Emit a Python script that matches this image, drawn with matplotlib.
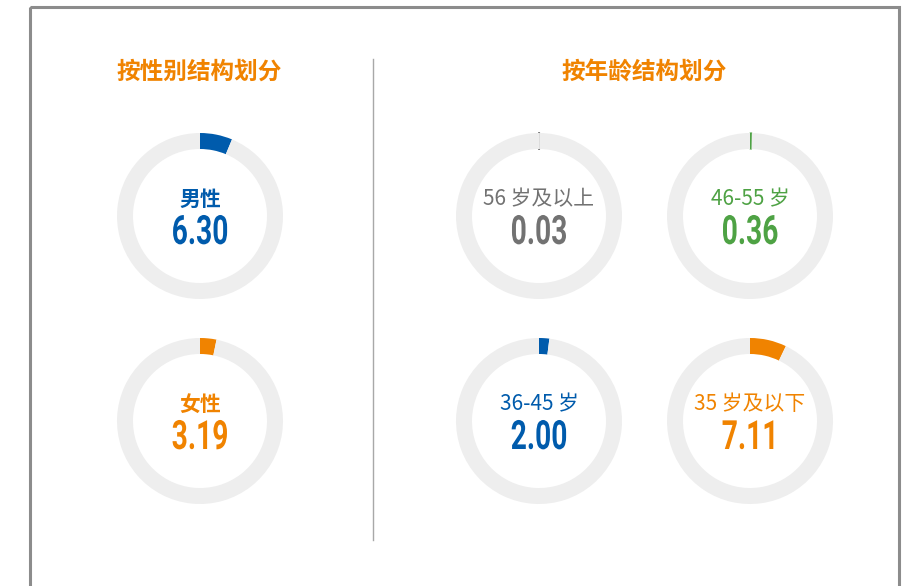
import matplotlib
matplotlib.use("Agg")
import matplotlib.pyplot as plt
from matplotlib.lines import Line2D
from matplotlib.patches import Rectangle
from matplotlib.patheffects import AbstractPathEffect
from matplotlib.transforms import Affine2D

plt.rcParams['font.family'] = ['Noto Sans CJK SC', 'DejaVu Sans']

# Section titles
section_titles = ["按性别结构划分", "按年龄结构划分"]

# Gender breakdown (percent)
gender_labels = ["男性", "女性"]
gender_values = [6.30, 3.19]

# Age breakdown (percent)
age_labels = ["56 岁及以上", "46-55 岁", "36-45 岁", "35 岁及以下"]
age_values = [0.03, 0.36, 2.00, 7.11]

ORANGE = "#F08300"
BLUE = "#005BAC"
GRAY = "#727272"
GREEN = "#4EA244"
RING = "#EEEEEE"

gender_colors = [BLUE, ORANGE]
age_colors = [GRAY, GREEN, BLUE, ORANGE]

W, H = 913, 586
fig = plt.figure(figsize=(W / 100, H / 100), dpi=100)
fig.patch.set_facecolor("white")


class Squeeze(AbstractPathEffect):
    """Narrow the glyphs horizontally around the text's anchor point."""

    def __init__(self, ax, sx):
        super().__init__()
        self.ax = ax
        self.sx = sx

    def draw_path(self, renderer, gc, tpath, affine, rgbFace=None):
        cx = self.ax.transData.transform((0, 0))[0]
        squeeze = Affine2D().translate(-cx, 0).scale(self.sx, 1).translate(cx, 0)
        renderer.draw_path(gc, tpath, affine + squeeze, rgbFace)


# Full-figure overlay in pixel coordinates for frame, divider and titles
bg = fig.add_axes([0, 0, 1, 1])
bg.set_xlim(0, W)
bg.set_ylim(H, 0)
bg.axis("off")

bg.add_patch(Rectangle((29.5, 6.5), 869.5, 600, fill=False,
                       edgecolor="#8C8C8C", linewidth=2.2))
bg.add_line(Line2D([373, 373], [59, 540], color="#A8A8A8", linewidth=1.0))

bg.text(199, 72, section_titles[0], color=ORANGE, fontsize=17,
        fontweight="bold", ha="center", va="center")
bg.text(644, 72, section_titles[1], color=ORANGE, fontsize=17,
        fontweight="bold", ha="center", va="center")

R_PX = 83
RING_W = 16 / 83


def donut(cx, cy, label, value, color, bold):
    ax = fig.add_axes([(cx - R_PX) / W, 1 - (cy + R_PX) / H,
                       2 * R_PX / W, 2 * R_PX / H])
    wedges, _ = ax.pie([value, 100 - value], colors=[color, RING],
                       startangle=90, counterclock=False, radius=1.0,
                       wedgeprops=dict(width=RING_W, linewidth=0))
    # keep very small shares visible as a thin tick
    wedges[0].set_edgecolor(color)
    wedges[0].set_linewidth(1.3 if value < 0.1 else (0.8 if value < 1 else 0))
    ax.set_xlim(-1, 1)
    ax.set_ylim(-1, 1)
    ax.set_aspect("auto")
    ax.axis("off")
    ax.text(0, 17 / R_PX, label, color=color, fontsize=15,
            fontweight="bold" if bold else "medium",
            ha="center", va="center")
    ax.text(0, -17 / R_PX, f"{value:.2f}", color=color, fontsize=29,
            fontweight="bold", ha="center", va="center",
            family=["Roboto", "DejaVu Sans"],
            path_effects=[Squeeze(ax, 0.70)])


gender_pos = [(200, 216), (200, 421)]
for (cx, cy), lab, val, col in zip(gender_pos, gender_labels,
                                   gender_values, gender_colors):
    donut(cx, cy, lab, val, col, True)

age_pos = [(539, 216), (750, 216), (539, 421), (750, 421)]
for (cx, cy), lab, val, col in zip(age_pos, age_labels, age_values,
                                   age_colors):
    donut(cx, cy, lab, val, col, False)

fig.savefig("out.png", dpi=100, facecolor="white")
